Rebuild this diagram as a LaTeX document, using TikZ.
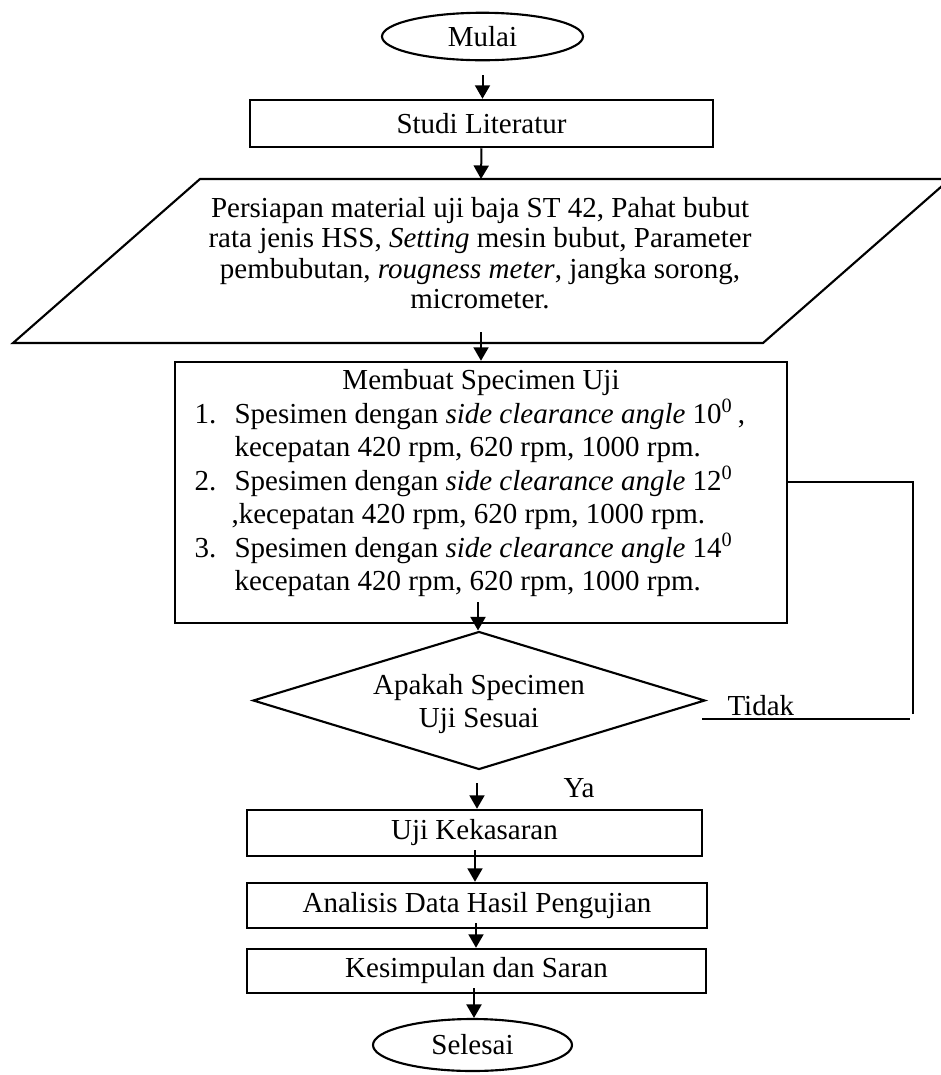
\documentclass[tikz,border=0pt]{standalone}
\usepackage{fontspec}
\setmainfont{Liberation Serif}
\usetikzlibrary{shapes.geometric,arrows.meta,calc}
\begin{document}
\begin{tikzpicture}[x=0.4pt,y=-0.4pt,
  every node/.style={font=\fontsize{11.6}{13.4}\selectfont, inner sep=0pt},
  box/.style={draw, line width=1pt, rectangle},
  oval/.style={draw, line width=0.85pt, ellipse},
  dec/.style={draw, line width=0.85pt, diamond},
  txt/.style={anchor=base west},
  ctxt/.style={anchor=base},
  arr/.style={line width=0.8pt, -{Triangle[width=6pt,length=5.4pt]}},
  ln/.style={line width=0.8pt}]
\useasboundingbox (0,0) rectangle (941,1075);

% start / end
\node[oval, minimum width=80.4pt, minimum height=19pt] (mulai) at (482.5,36.5) {Mulai};
\node[box, minimum width=185.2pt, minimum height=18.8pt] (studi) at (481.5,123.5) {Studi Literatur};

% parallelogram
\begin{scope}
\clip (0,0) rectangle (941,1075);
\draw[line width=0.85pt] (200,179) -- (950,179) -- (763,343) -- (13,343) -- cycle;
\end{scope}
\node[ctxt] (p1) at (480,217) {Persiapan material uji baja ST 42, Pahat bubut};
\node[ctxt] (p2) at (480,247) {rata jenis HSS, \textit{Setting} mesin bubut, Parameter};
\node[ctxt] (p3) at (480,278) {pembubutan, \textit{rougness meter}, jangka sorong,};
\node[ctxt] (p4) at (480,308) {micrometer.};
\coordinate (ptop) at (481,179);
\coordinate (pin) at (481,332);

% specimen box
\node[box, minimum width=244.8pt, minimum height=104.4pt] (membuat) at (481,492.5) {};
\node[ctxt] (mt) at (481,389) {Membuat Specimen Uji};
\node[txt] (n1) at (194,423) {1.};
\node[txt] (l1) at (234,423) {Spesimen dengan \textit{side clearance angle} 10\textsuperscript{0}\,,};
\node[txt] (l2) at (234,456) {kecepatan 420 rpm, 620 rpm, 1000 rpm.};
\node[txt] (n2) at (194,490) {2.};
\node[txt] (l3) at (234,490) {Spesimen dengan \textit{side clearance angle} 12\textsuperscript{0}};
\node[txt] (l4) at (231,523) {,kecepatan 420 rpm, 620 rpm, 1000 rpm.};
\node[txt] (n3) at (194,557) {3.};
\node[txt] (l5) at (234,557) {Spesimen dengan \textit{side clearance angle} 14\textsuperscript{0}};
\node[txt] (l6) at (234,590) {kecepatan 420 rpm, 620 rpm, 1000 rpm.};

% decision
\node[dec, minimum width=180.8pt, minimum height=55.2pt] (cek) at (479,700.5) {};
\node[ctxt] (c1) at (479,694) {Apakah Specimen};
\node[ctxt] (c2) at (479,727) {Uji Sesuai};
\node[txt] (tidak) at (727,715) {Tidak};
\node[txt] (ya) at (563,797) {Ya};

% lower boxes
\node[box, minimum width=182pt, minimum height=18.4pt] (uji) at (474.5,833) {Uji Kekasaran};
\node[box, minimum width=184pt, minimum height=18pt] (analisis) at (477,905.5) {Analisis Data Hasil Pengujian};
\node[box, minimum width=183.6pt, minimum height=17.6pt] (kesimpulan) at (476.5,971) {Kesimpulan dan Saran};
\node[oval, minimum width=79.6pt, minimum height=20.8pt] (selesai) at (472.5,1045) {Selesai};

% connectors
\coordinate (a1) at ($(mulai.south)+(0,14)$);
\draw[arr] (a1) -- (a1 |- studi.north);
\draw[arr] (studi.south) -- (ptop);
\draw[arr] (pin) -- (pin |- membuat.north);
\coordinate (min) at (478,602);
\draw[arr] (min) -- (min |- cek.north);
\coordinate (cout) at (477,783);
\draw[arr] (cout) -- (cout |- uji.north);
\coordinate (uin) at (475,850);
\draw[arr] (uin) -- (uin |- analisis.north);
\coordinate (ain) at (476,923);
\draw[arr] (ain) -- (ain |- kesimpulan.north);
\coordinate (kin) at (474,988);
\draw[arr] (kin) -- (kin |- selesai.north);

% loop back (Tidak)
\coordinate (t1) at (702,719);
\coordinate (t2) at (910,719);
\coordinate (t3) at (913,714);
\coordinate (t4) at (913,482);
\draw[ln] (t1) -- (t2);
\draw[ln] (t3) -- (t4) -- (t4 -| membuat.east);
\end{tikzpicture}
\end{document}
